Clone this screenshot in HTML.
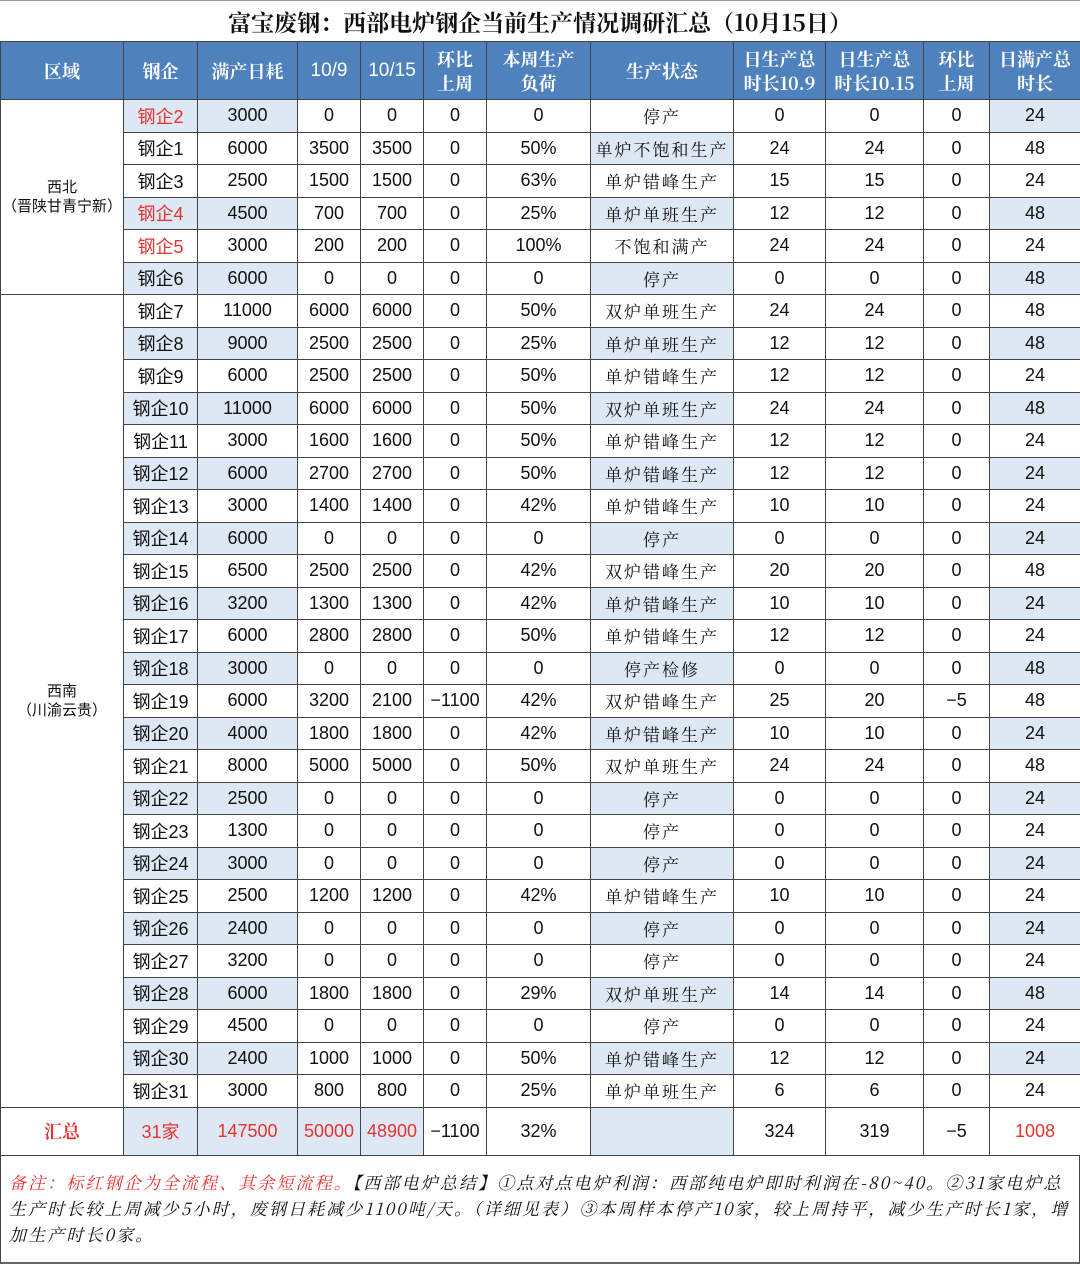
<!DOCTYPE html>
<html><head><meta charset="utf-8"><style>
html,body{margin:0;padding:0;background:#fff;}
body{width:1080px;height:1265px;overflow:hidden;position:relative;font-family:"Liberation Sans","Noto Sans CJK SC",sans-serif;}
.title{position:absolute;left:0;top:0;width:1080px;height:41px;line-height:41px;text-align:center;font-family:"Noto Serif CJK SC",serif;font-weight:bold;font-size:23px;color:#111;border-top:1px solid #999;box-sizing:border-box;}
table{position:absolute;left:0;top:41px;border-collapse:collapse;table-layout:fixed;width:1080px;}
td,th{border:1.5px solid #444;text-align:center;padding:0;font-size:18px;color:#111;overflow:hidden;white-space:nowrap;}
th{background:#4f81bd;color:#fff;font-family:"Noto Serif CJK SC",serif;font-weight:bold;font-size:18px;line-height:24px;height:57px;}
th.n{font-family:"Liberation Sans",sans-serif;font-weight:normal;font-size:19px;}
tr.d td{height:31.5px;}
td.s{font-family:"Noto Serif CJK SC",serif;font-size:17px;letter-spacing:2px;}
td.g{font-family:"Liberation Sans","Noto Sans CJK SC",sans-serif;}
.b{background:#dde8f4;}
.r{color:#e8322e;}
td.reg{font-size:15px;line-height:19px;}
tr.t td{height:47px;}
.note{position:absolute;left:0;top:1156px;width:1080px;height:108px;box-sizing:border-box;border-left:1.5px solid #444;border-right:1.5px solid #444;border-bottom:2px solid #666;padding:13px 6px 0 8px;font-family:"Noto Serif CJK SC",serif;font-style:italic;font-size:17px;letter-spacing:2.1px;line-height:26px;color:#111;background:#fff;}
</style></head><body>
<div class="title">富宝废钢：西部电炉钢企当前生产情况调研汇总（10月15日）</div>
<table>
<colgroup><col style="width:123px"><col style="width:74px"><col style="width:100px"><col style="width:63px"><col style="width:63px"><col style="width:63px"><col style="width:104px"><col style="width:143px"><col style="width:92px"><col style="width:98px"><col style="width:66px"><col style="width:91px"></colgroup>
<tr><th>区域</th><th>钢企</th><th>满产日耗</th><th class="n">10/9</th><th class="n">10/15</th><th>环比<br>上周</th><th>本周生产<br>负荷</th><th>生产状态</th><th>日生产总<br>时长10.9</th><th>日生产总<br>时长10.15</th><th>环比<br>上周</th><th>日满产总<br>时长</th></tr>
<tr class="d"><td rowspan="6" class="reg">西北<br>（晋陕甘青宁新）</td><td class="g b r">钢企2</td><td class="b">3000</td><td>0</td><td>0</td><td>0</td><td>0</td><td class="s">停产</td><td>0</td><td>0</td><td>0</td><td class="b">24</td></tr>
<tr class="d"><td class="g">钢企1</td><td>6000</td><td>3500</td><td>3500</td><td>0</td><td>50%</td><td class="s b">单炉不饱和生产</td><td>24</td><td>24</td><td>0</td><td>48</td></tr>
<tr class="d"><td class="g">钢企3</td><td>2500</td><td>1500</td><td>1500</td><td>0</td><td>63%</td><td class="s">单炉错峰生产</td><td>15</td><td>15</td><td>0</td><td>24</td></tr>
<tr class="d"><td class="g b r">钢企4</td><td class="b">4500</td><td>700</td><td>700</td><td>0</td><td>25%</td><td class="s b">单炉单班生产</td><td>12</td><td>12</td><td>0</td><td class="b">48</td></tr>
<tr class="d"><td class="g r">钢企5</td><td>3000</td><td>200</td><td>200</td><td>0</td><td>100%</td><td class="s">不饱和满产</td><td>24</td><td>24</td><td>0</td><td>24</td></tr>
<tr class="d"><td class="g b">钢企6</td><td class="b">6000</td><td>0</td><td>0</td><td>0</td><td>0</td><td class="s b">停产</td><td>0</td><td>0</td><td>0</td><td class="b">48</td></tr>
<tr class="d"><td rowspan="25" class="reg">西南<br>（川渝云贵）</td><td class="g">钢企7</td><td>11000</td><td>6000</td><td>6000</td><td>0</td><td>50%</td><td class="s">双炉单班生产</td><td>24</td><td>24</td><td>0</td><td>48</td></tr>
<tr class="d"><td class="g b">钢企8</td><td class="b">9000</td><td>2500</td><td>2500</td><td>0</td><td>25%</td><td class="s b">单炉单班生产</td><td>12</td><td>12</td><td>0</td><td class="b">48</td></tr>
<tr class="d"><td class="g">钢企9</td><td>6000</td><td>2500</td><td>2500</td><td>0</td><td>50%</td><td class="s">单炉错峰生产</td><td>12</td><td>12</td><td>0</td><td>24</td></tr>
<tr class="d"><td class="g b">钢企10</td><td class="b">11000</td><td>6000</td><td>6000</td><td>0</td><td>50%</td><td class="s b">双炉单班生产</td><td>24</td><td>24</td><td>0</td><td class="b">48</td></tr>
<tr class="d"><td class="g">钢企11</td><td>3000</td><td>1600</td><td>1600</td><td>0</td><td>50%</td><td class="s">单炉错峰生产</td><td>12</td><td>12</td><td>0</td><td>24</td></tr>
<tr class="d"><td class="g b">钢企12</td><td class="b">6000</td><td>2700</td><td>2700</td><td>0</td><td>50%</td><td class="s b">单炉错峰生产</td><td>12</td><td>12</td><td>0</td><td class="b">24</td></tr>
<tr class="d"><td class="g">钢企13</td><td>3000</td><td>1400</td><td>1400</td><td>0</td><td>42%</td><td class="s">单炉错峰生产</td><td>10</td><td>10</td><td>0</td><td>24</td></tr>
<tr class="d"><td class="g b">钢企14</td><td class="b">6000</td><td>0</td><td>0</td><td>0</td><td>0</td><td class="s b">停产</td><td>0</td><td>0</td><td>0</td><td class="b">24</td></tr>
<tr class="d"><td class="g">钢企15</td><td>6500</td><td>2500</td><td>2500</td><td>0</td><td>42%</td><td class="s">双炉错峰生产</td><td>20</td><td>20</td><td>0</td><td>48</td></tr>
<tr class="d"><td class="g b">钢企16</td><td class="b">3200</td><td>1300</td><td>1300</td><td>0</td><td>42%</td><td class="s b">单炉错峰生产</td><td>10</td><td>10</td><td>0</td><td class="b">24</td></tr>
<tr class="d"><td class="g">钢企17</td><td>6000</td><td>2800</td><td>2800</td><td>0</td><td>50%</td><td class="s">单炉错峰生产</td><td>12</td><td>12</td><td>0</td><td>24</td></tr>
<tr class="d"><td class="g b">钢企18</td><td class="b">3000</td><td>0</td><td>0</td><td>0</td><td>0</td><td class="s b">停产检修</td><td>0</td><td>0</td><td>0</td><td class="b">48</td></tr>
<tr class="d"><td class="g">钢企19</td><td>6000</td><td>3200</td><td>2100</td><td>−1100</td><td>42%</td><td class="s">双炉错峰生产</td><td>25</td><td>20</td><td>−5</td><td>48</td></tr>
<tr class="d"><td class="g b">钢企20</td><td class="b">4000</td><td>1800</td><td>1800</td><td>0</td><td>42%</td><td class="s b">单炉错峰生产</td><td>10</td><td>10</td><td>0</td><td class="b">24</td></tr>
<tr class="d"><td class="g">钢企21</td><td>8000</td><td>5000</td><td>5000</td><td>0</td><td>50%</td><td class="s">双炉单班生产</td><td>24</td><td>24</td><td>0</td><td>48</td></tr>
<tr class="d"><td class="g b">钢企22</td><td class="b">2500</td><td>0</td><td>0</td><td>0</td><td>0</td><td class="s b">停产</td><td>0</td><td>0</td><td>0</td><td class="b">24</td></tr>
<tr class="d"><td class="g">钢企23</td><td>1300</td><td>0</td><td>0</td><td>0</td><td>0</td><td class="s">停产</td><td>0</td><td>0</td><td>0</td><td>24</td></tr>
<tr class="d"><td class="g b">钢企24</td><td class="b">3000</td><td>0</td><td>0</td><td>0</td><td>0</td><td class="s b">停产</td><td>0</td><td>0</td><td>0</td><td class="b">24</td></tr>
<tr class="d"><td class="g">钢企25</td><td>2500</td><td>1200</td><td>1200</td><td>0</td><td>42%</td><td class="s">单炉错峰生产</td><td>10</td><td>10</td><td>0</td><td>24</td></tr>
<tr class="d"><td class="g b">钢企26</td><td class="b">2400</td><td>0</td><td>0</td><td>0</td><td>0</td><td class="s b">停产</td><td>0</td><td>0</td><td>0</td><td class="b">24</td></tr>
<tr class="d"><td class="g">钢企27</td><td>3200</td><td>0</td><td>0</td><td>0</td><td>0</td><td class="s">停产</td><td>0</td><td>0</td><td>0</td><td>24</td></tr>
<tr class="d"><td class="g b">钢企28</td><td class="b">6000</td><td>1800</td><td>1800</td><td>0</td><td>29%</td><td class="s b">双炉单班生产</td><td>14</td><td>14</td><td>0</td><td class="b">48</td></tr>
<tr class="d"><td class="g">钢企29</td><td>4500</td><td>0</td><td>0</td><td>0</td><td>0</td><td class="s">停产</td><td>0</td><td>0</td><td>0</td><td>24</td></tr>
<tr class="d"><td class="g b">钢企30</td><td class="b">2400</td><td>1000</td><td>1000</td><td>0</td><td>50%</td><td class="s b">单炉错峰生产</td><td>12</td><td>12</td><td>0</td><td class="b">24</td></tr>
<tr class="d"><td class="g">钢企31</td><td>3000</td><td>800</td><td>800</td><td>0</td><td>25%</td><td class="s">单炉单班生产</td><td>6</td><td>6</td><td>0</td><td>24</td></tr>
<tr class="t"><td class="r" style="font-family:'Noto Serif CJK SC',serif;font-weight:bold;">汇总</td><td class="g b r">31家</td><td class="b r">147500</td><td class="b r">50000</td><td class="b r">48900</td><td>−1100</td><td>32%</td><td class="b"></td><td>324</td><td>319</td><td>−5</td><td class="r">1008</td></tr>
</table>
<div class="note"><span style="color:#e8322e">备注：标红钢企为全流程、其余短流程。</span>【西部电炉总结】①点对点电炉利润：西部纯电炉即时利润在-80~40。②31家电炉总生产时长较上周减少5小时，废钢日耗减少1100吨/天。（详细见表）③本周样本停产10家，较上周持平，减少生产时长1家，增加生产时长0家。</div>
</body></html>
